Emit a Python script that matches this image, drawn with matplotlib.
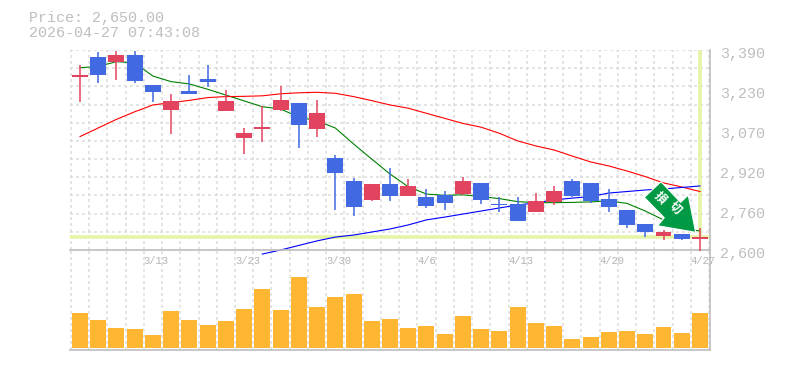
# coding:utf-8
from matplotlib import pyplot as plt
from matplotlib.patches import Polygon
from matplotlib.transforms import Affine2D
import numpy as np

opens = [3285, 3362, 3343, 3370, 3252, 3153, 3228, 3275, 3149, 3042, 3078, 3153, 3181, 3078, 2963, 2873, 2798, 2861,
         2813, 2809, 2817, 2821, 2865, 2782, 2782, 2750, 2790, 2873, 2865, 2801, 2758, 2703, 2655, 2663, 2643]
highs = [3331, 3381, 3386, 3386, 3252, 3216, 3291, 3331, 3232, 3082, 3169, 3248, 3181, 3192, 2975, 2884, 2861, 2924,
         2880, 2841, 2833, 2888, 2865, 2809, 2809, 2825, 2853, 2880, 2865, 2841, 2758, 2703, 2679, 2663, 2687]
lows = [3185, 3261, 3272, 3261, 3185, 3058, 3216, 3244, 3149, 2979, 3028, 3149, 3004, 3046, 2758, 2734, 2794, 2794,
        2813, 2766, 2758, 2817, 2782, 2750, 2715, 2750, 2778, 2809, 2786, 2750, 2687, 2651, 2640, 2640, 2596]
closes = [3291, 3291, 3370, 3268, 3224, 3189, 3216, 3264, 3189, 3062, 3086, 3192, 3094, 3141, 2904, 2770, 2861, 2813,
          2853, 2774, 2786, 2873, 2798, 2778, 2715, 2794, 2833, 2813, 2794, 2770, 2699, 2671, 2671, 2643, 2650]
volumes = [35, 28, 20, 19, 13, 37, 28, 23, 27, 39, 59, 38, 71, 41, 51, 54, 27, 29,
           20, 22, 14, 32, 19, 17, 41, 25, 22, 9, 11, 16, 17, 14, 21, 15, 35]
ma_short = [3320, 3325, 3344, 3339, 3287, 3265, 3256, 3235, 3212, 3189, 3166, 3157, 3125, 3110, 3082, 3019, 2959, 2900,
            2850, 2821, 2816, 2818, 2811, 2803, 2791, 2787, 2787, 2788, 2790, 2794, 2784, 2754, 2719, 2687, 2675]
ma_mid = [3048, 3082, 3116, 3146, 3173, 3182, 3191, 3202, 3206, 3207, 3209, 3217, 3221, 3223, 3219, 3206, 3190, 3173,
          3160, 3140, 3120, 3100, 3085, 3061, 3031, 3011, 2995, 2971, 2948, 2932, 2912, 2890, 2865, 2849, 2831]
ma_long = [2584, 2600, 2618, 2636, 2651, 2659, 2671, 2683, 2699, 2719, 2730, 2742,
           2754, 2766, 2778, 2786, 2798, 2805, 2811, 2825, 2831, 2837, 2841, 2847, 2853]
ma_long_start = 10

date_pos = [4, 9, 14, 19, 24, 29, 34]
date_labels = ['3/13', '3/23', '3/30', '4/6', '4/13', '4/20', '4/27']
price_ticks = [3390, 3232, 3074, 2916, 2758, 2600]
price_labels = ['3,390', '3,230', '3,070', '2,920', '2,760', '2,600']
price_now = 2650
title_lines = ['Price: 2,650.00', '2026-04-27 07:43:08']
sign_text = '損切'

RED = '#E2445F'
BLUE = '#4169E1'
ORANGE = '#FFB733'
LIME = '#E4F5A6'
GRAY = '#BEBEBE'
GRID = '#DCDCDC'
DASH = (0, (2, 2))

fig = plt.figure(figsize=(7.85, 3.7), dpi=100)
ax = fig.add_axes([70 / 785, 120 / 370, 640 / 785, 200 / 370])
ax_v = fig.add_axes([70 / 785, 20 / 370, 640 / 785, 100 / 370], sharex=ax)
# 价格图放在上层, 标签和超出的线不被成交量图遮住
ax.set_zorder(2)
ax_v.set_zorder(1)
ax.patch.set_visible(False)
n = len(closes)
x = np.arange(n)
ax.set_xlim(-0.548, 34.55)
ax.set_ylim(2600, 3390)
ax_v.set_ylim(-2, 98)

# 网格
for a in (ax, ax_v):
    a.set_xticks(np.arange(n + 1) - 0.5)
    a.grid(axis='x', color=GRID, lw=1.08, ls=DASH, zorder=0)
    a.tick_params(length=0, labelbottom=False, labelleft=False)
    a.set_axisbelow(True)
    for s in ('top', 'left'):
        a.spines[s].set_visible(False)
    for s in ('bottom', 'right'):
        a.spines[s].set_color(GRAY)
        a.spines[s].set_linewidth(1.2)
ax.set_yticks(np.linspace(2600, 3390, 12))
ax.grid(axis='y', color=GRID, lw=1.08, ls=DASH, zorder=0)
ax_v.set_yticks([])

# 当前价格线
ax.axhline(price_now, color=LIME, lw=2.6, zorder=1)
ax.plot([x[-1], x[-1]], [price_now, 3390], color=LIME, lw=2.6, zorder=1)

# 均线
ax.plot(x, ma_short, color='#008000', lw=0.8, zorder=2)
ax.plot(x, ma_mid, color='#FF0000', lw=0.8, zorder=2)
ax.plot(x[ma_long_start:], ma_long, color='#0000FF', lw=0.8, zorder=2, clip_on=False)

# K线
colors = [RED if c >= o else BLUE for o, c in zip(opens, closes)]
ax.vlines(x, lows, highs, colors=colors, lw=1.1, zorder=3, clip_on=False)
ax.bar(x, np.abs(np.array(closes) - np.array(opens)), bottom=np.minimum(opens, closes),
       width=0.877, color=colors, zorder=3)

# 成交量
ax_v.bar(x, volumes, width=0.877, color=ORANGE, zorder=2)

# 文字
for val, label in zip(price_ticks, price_labels):
    ax.annotate(label, (1, val), xycoords=('axes fraction', 'data'), xytext=(7, -2.6), textcoords='offset points',
                va='center', ha='left', color=GRAY, family='Liberation Mono', fontsize=10.8, annotation_clip=False)
for pos, label in zip(date_pos, date_labels):
    ax.annotate(label, (pos - 0.5, 0), xycoords=('data', 'axes fraction'), xytext=(0, -4.5), textcoords='offset points',
                va='top', ha='left', color='#B4B4B4', family='Liberation Mono', fontsize=7.6, annotation_clip=False)
fig.text(29 / 785, 1 - 18 / 370, title_lines[0], color=GRAY, family='Liberation Mono', fontsize=10.8, va='center')
fig.text(29 / 785, 1 - 33 / 370, title_lines[1], color=GRAY, family='Liberation Mono', fontsize=10.8, va='center')

# 箭头
anchor = ax.transData.transform((x[-1], price_now))
arrow_tf = Affine2D().translate(*anchor)
arrow_shape = [(-39, 55.6), (-19.3, 35), (-11.7, 42.3), (-4.3, 5), (-42.3, 11.6), (-35.7, 19.6), (-55.7, 40)]
ax.add_patch(Polygon(arrow_shape, closed=True, facecolor='#009944', edgecolor='white', lw=0.8,
                     transform=arrow_tf, zorder=5, clip_on=False))
for ch, off in zip(sign_text, [(-40, 39), (-25, 29)]):
    ax.text(anchor[0] + off[0], anchor[1] + off[1], ch, transform=Affine2D(), color='white', rotation=-45,
            rotation_mode='anchor', ha='center', va='center', fontsize=8.5, fontweight='bold',
            family='Noto Sans CJK JP', zorder=6, clip_on=False)

fig.savefig('out.png', dpi=100)
